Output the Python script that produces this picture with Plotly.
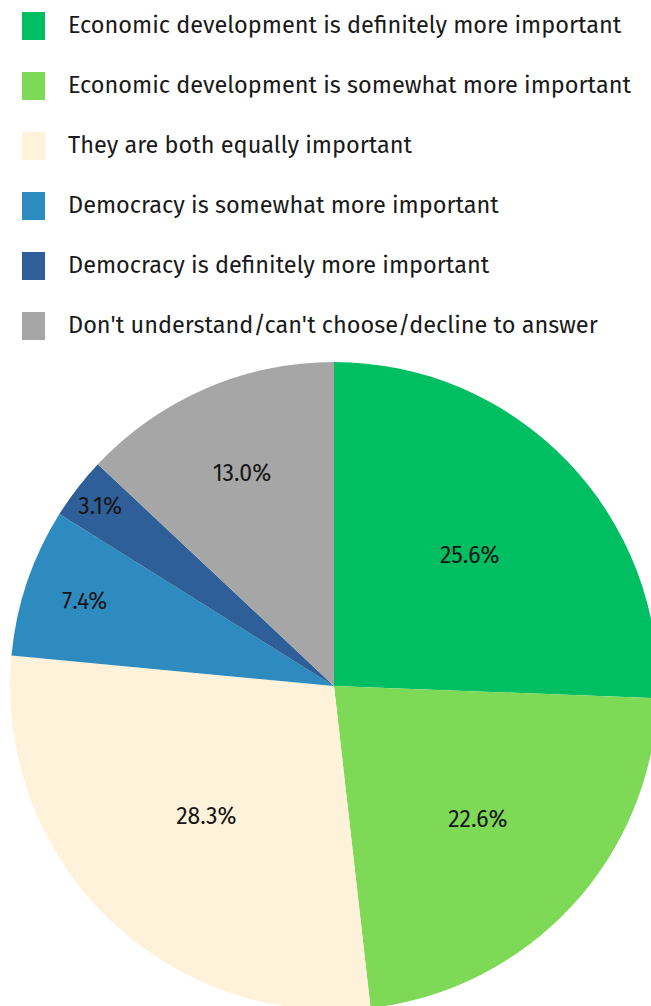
import plotly.graph_objects as go

labels = [
    "Economic development is definitely more important",
    "Economic development is somewhat more important",
    "They are both equally important",
    "Democracy is somewhat more important",
    "Democracy is definitely more important",
    "Don't understand/can't choose/decline to answer",
]
values = [25.6, 22.6, 28.3, 7.4, 3.1, 13.0]
colors = ["#00BF63", "#7ED957", "#FFF2DA", "#2E8BBF", "#2F5F98", "#A6A6A6"]

FONT = "Fira Sans, Open Sans, Noto Sans, sans-serif"
W, H = 658, 1010

fig = go.Figure(go.Pie(
    labels=labels,
    values=values,
    marker=dict(colors=colors, line=dict(width=0)),
    sort=False,
    direction="clockwise",
    rotation=0,
    textinfo="percent",
    texttemplate="%{value:.1f}%",
    textposition="inside",
    insidetextorientation="horizontal",
    textfont=dict(family=FONT, size=23, color="#151515"),
    domain=dict(x=[10 / W, 1], y=[0, 648 / H]),
    showlegend=False,
    hoverinfo="label+percent",
))

# manual legend built from labels / colors
row_top0, row_gap = 12, 60
sq_w, sq_h = 23, 28
for i, (lab, col) in enumerate(zip(labels, colors)):
    top = row_top0 + i * row_gap
    fig.add_shape(type="rect", xref="paper", yref="paper",
                  x0=22 / W, x1=(22 + sq_w) / W,
                  y0=1 - top / H, y1=1 - (top + sq_h) / H,
                  fillcolor=col, line=dict(width=0))
    fig.add_annotation(text=lab, xref="paper", yref="paper",
                       x=66 / W, y=1 - (top + sq_h / 2 - 1) / H,
                       xanchor="left", yanchor="middle", showarrow=False,
                       font=dict(family=FONT, size=23.5, color="#1a1a1a"))

fig.update_layout(
    width=W, height=H,
    margin=dict(l=0, r=0, t=0, b=0),
    paper_bgcolor="white",
    plot_bgcolor="white",
    uniformtext=dict(minsize=23, mode="show"),
)

fig.write_html(
    "out.html",
    post_script="document.documentElement.style.overflow='hidden';document.body.style.overflow='hidden';document.body.style.margin='0';",
)
